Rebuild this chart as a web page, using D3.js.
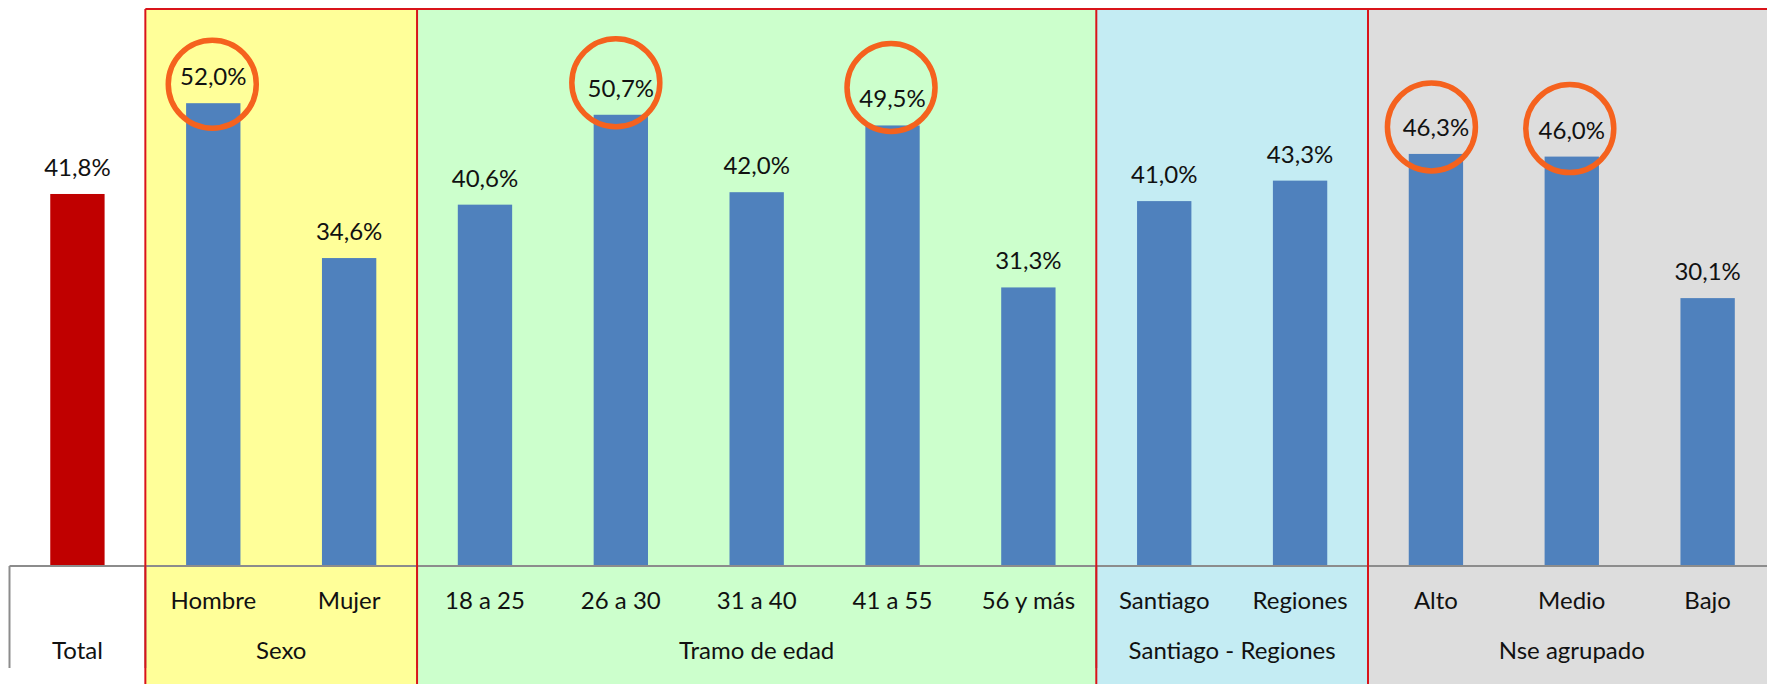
<!DOCTYPE html>
<meta charset="utf-8">
<script src="https://d3js.org/d3.v7.min.js"></script>
<style>
  body { margin: 0; background: #fff; }
  text { font-family: Lato, "Open Sans", sans-serif; fill: #111; }
</style>
<div id="chart"></div>
<script>

// data
var categories = ["Total", "Hombre", "Mujer", "18 a 25", "26 a 30", "31 a 40", "41 a 55", "56 y más", "Santiago", "Regiones", "Alto", "Medio", "Bajo"]
var values = [41.8, 52.0, 34.6, 40.6, 50.7, 42.0, 49.5, 31.3, 41.0, 43.3, 46.3, 46.0, 30.1]
var groupNames = ["Total", "Sexo", "Tramo de edad", "Santiago - Regiones", "Nse agrupado"]
var groupSizes = [1, 2, 5, 2, 3]
var groupColors = [null, "#FFFF99", "#CCFFCC", "#C4ECF3", "#DDDDDD"]
var highlighted = ["Hombre", "26 a 30", "41 a 55", "Alto", "Medio"]

var width = 1767, height = 684
var baseY = 566

var svg = d3.select("#chart").append("svg")
  .attr("width", width)
  .attr("height", height)

// x: one slot per category, bar takes 40% of it
var x = d3.scaleBand()
  .domain(categories)
  .range([9.5, 9.5 + 13 * 135.85])
  .paddingInner(0.6)
  .paddingOuter(0.3)

var y = d3.scaleLinear()
  .domain([0, 60])
  .range([baseY, baseY - 534])

var step = x.step()
var left0 = x.range()[0]

// build group spans
var groups = []
var idx = 0
groupNames.forEach(function(g, i) {
  groups.push({name: g, start: idx, size: groupSizes[i], color: groupColors[i]})
  idx += groupSizes[i]
})

function gx0(g) { return left0 + g.start * step }
function gx1(g) { return left0 + (g.start + g.size) * step }

// coloured panels
svg.selectAll("rect.panel")
  .data(groups.filter(function(g) { return g.color }))
  .enter().append("rect")
    .attr("class", "panel")
    .attr("x", gx0)
    .attr("y", 9)
    .attr("width", function(g) { return gx1(g) - gx0(g) })
    .attr("height", height - 9)
    .attr("fill", function(g) { return g.color })

// bars
svg.selectAll("rect.bar")
  .data(categories)
  .enter().append("rect")
    .attr("class", "bar")
    .attr("x", function(d) { return x(d) })
    .attr("y", function(d, i) { return y(values[i]) })
    .attr("width", x.bandwidth())
    .attr("height", function(d, i) { return baseY - y(values[i]) })
    .attr("fill", function(d, i) { return i == 0 ? "#C00000" : "#4F81BD" })

// value labels
svg.selectAll("text.val")
  .data(categories)
  .enter().append("text")
    .attr("class", "val")
    .attr("x", function(d) { return x(d) + x.bandwidth() / 2 })
    .attr("y", function(d, i) { return y(values[i]) - 18 })
    .attr("text-anchor", "middle")
    .style("font-size", "24px")
    .text(function(d, i) { return values[i].toFixed(1).replace(".", ",") + "%" })

// axis line
svg.append("line")
  .attr("x1", left0).attr("x2", width)
  .attr("y1", baseY).attr("y2", baseY)
  .attr("stroke", "#8C8C8C")
  .attr("stroke-width", 2)

// grey separators under axis
svg.selectAll("line.sep")
  .data(groups)
  .enter().append("line")
    .attr("class", "sep")
    .attr("x1", gx0).attr("x2", gx0)
    .attr("y1", baseY).attr("y2", 668)
    .attr("stroke", "#8C8C8C")
    .attr("stroke-width", 2)

// red panel borders
svg.append("line")
  .attr("x1", gx0(groups[1])).attr("x2", width)
  .attr("y1", 9).attr("y2", 9)
  .attr("stroke", "#D9141A")
  .attr("stroke-width", 2)

svg.selectAll("line.border")
  .data(groups.slice(1))
  .enter().append("line")
    .attr("class", "border")
    .attr("x1", gx0).attr("x2", gx0)
    .attr("y1", 9).attr("y2", height)
    .attr("stroke", "#D9141A")
    .attr("stroke-width", 2)

// category labels
svg.selectAll("text.cat")
  .data(categories.slice(1))
  .enter().append("text")
    .attr("class", "cat")
    .attr("x", function(d) { return x(d) + x.bandwidth() / 2 })
    .attr("y", 609)
    .attr("text-anchor", "middle")
    .style("font-size", "24px")
    .text(function(d) { return d })

// group labels
svg.selectAll("text.grp")
  .data(groups)
  .enter().append("text")
    .attr("class", "grp")
    .attr("x", function(g) { return (gx0(g) + gx1(g)) / 2 })
    .attr("y", 659)
    .attr("text-anchor", "middle")
    .style("font-size", "24px")
    .text(function(g) { return g.name })

// orange highlight circles, drawn by hand round the labels (small nudges)
var nudgeX = [-1, -5, -1.5, -4.5, -2]
var nudgeY = [-19, -32, -38, -27, -28]
svg.selectAll("circle.hl")
  .data(highlighted)
  .enter().append("circle")
    .attr("class", "hl")
    .attr("cx", function(d, i) { return x(d) + x.bandwidth() / 2 + nudgeX[i] })
    .attr("cy", function(d, i) { return y(values[categories.indexOf(d)]) + nudgeY[i] })
    .attr("r", 44)
    .attr("fill", "none")
    .attr("stroke", "#F5621E")
    .attr("stroke-width", 5.5)

</script>
